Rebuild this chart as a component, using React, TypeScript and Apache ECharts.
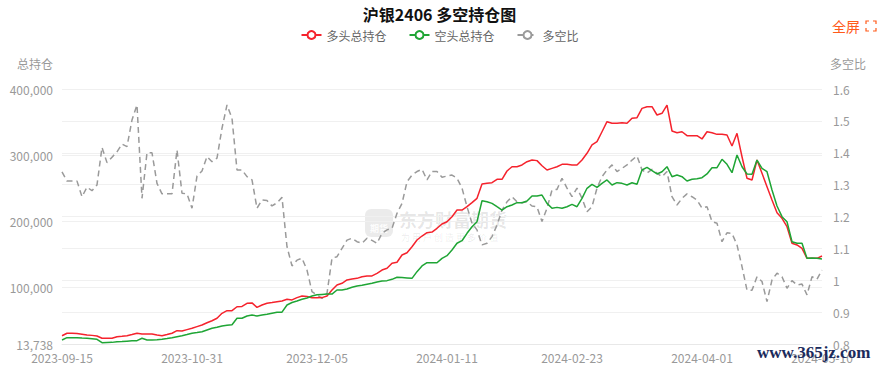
import React, { useEffect, useRef } from 'react';
import * as echarts from 'echarts';

const dates = [
  '2023-09-15','2023-09-18','2023-09-19','2023-09-20','2023-09-21','2023-09-22','2023-09-25','2023-09-26','2023-09-27','2023-09-28',
  '2023-10-09','2023-10-10','2023-10-11','2023-10-12','2023-10-13','2023-10-16','2023-10-17','2023-10-18','2023-10-19','2023-10-20',
  '2023-10-23','2023-10-24','2023-10-25','2023-10-26','2023-10-27','2023-10-30','2023-10-31',
  '2023-11-01','2023-11-02','2023-11-03','2023-11-06','2023-11-07','2023-11-08','2023-11-09','2023-11-10','2023-11-13','2023-11-14',
  '2023-11-15','2023-11-16','2023-11-17','2023-11-20','2023-11-21','2023-11-22','2023-11-23','2023-11-24','2023-11-27','2023-11-28',
  '2023-11-29','2023-11-30',
  '2023-12-01','2023-12-04','2023-12-05','2023-12-06','2023-12-07','2023-12-08','2023-12-11','2023-12-12','2023-12-13','2023-12-14',
  '2023-12-15','2023-12-18','2023-12-19','2023-12-20','2023-12-21','2023-12-22','2023-12-25','2023-12-26','2023-12-27','2023-12-28',
  '2023-12-29',
  '2024-01-02','2024-01-03','2024-01-04','2024-01-05','2024-01-08','2024-01-09','2024-01-10','2024-01-11','2024-01-12','2024-01-15',
  '2024-01-16','2024-01-17','2024-01-18','2024-01-19','2024-01-22','2024-01-23','2024-01-24','2024-01-25','2024-01-26','2024-01-29',
  '2024-01-30','2024-01-31',
  '2024-02-01','2024-02-02','2024-02-05','2024-02-06','2024-02-07','2024-02-08','2024-02-19','2024-02-20','2024-02-21','2024-02-22',
  '2024-02-23','2024-02-26','2024-02-27','2024-02-28','2024-02-29',
  '2024-03-01','2024-03-04','2024-03-05','2024-03-06','2024-03-07','2024-03-08','2024-03-11','2024-03-12','2024-03-13','2024-03-14',
  '2024-03-15','2024-03-18','2024-03-19','2024-03-20','2024-03-21','2024-03-22','2024-03-25','2024-03-26','2024-03-27','2024-03-28',
  '2024-03-29',
  '2024-04-01','2024-04-02','2024-04-03','2024-04-08','2024-04-09','2024-04-10','2024-04-11','2024-04-12','2024-04-15','2024-04-16',
  '2024-04-17','2024-04-18','2024-04-19','2024-04-22','2024-04-23','2024-04-24','2024-04-25','2024-04-26','2024-04-29','2024-04-30',
  '2024-05-06','2024-05-07','2024-05-08','2024-05-09','2024-05-10',
];

const labelDates = ['2023-09-15', '2023-10-31', '2023-12-05', '2024-01-11', '2024-02-23', '2024-04-01', '2024-05-10'];

const longPos = [
  26300, 30000, 30000, 29500, 28500, 27400, 26800, 25900, 22400, 22400,
  22400, 24800, 25500, 26300, 28000, 30000, 29000, 29000, 29000, 27500,
  26300, 28000, 30000, 33900, 33400, 35500, 37500, 40000, 42500, 46000,
  49000, 52700, 60200, 64200, 64200, 70200, 70700, 75400, 76000, 69300,
  72800, 75400, 76500, 77800, 79000, 81400, 80500, 84000, 86400, 85600,
  83900, 83900, 84000, 86400, 95500, 103000, 105700, 110700, 112200, 113200,
  115700, 116800, 116800, 120800, 125800, 128400, 136000, 137600, 148500, 152000,
  161100, 171300, 177300, 182300, 183300, 189000, 195500, 199000, 206600, 216700,
  216700, 221700, 227800, 234400, 256100, 257100, 258100, 263200, 263200, 275800,
  282300, 282300, 284900, 289900, 292400, 291500, 283800, 277300, 279800, 282300,
  285900, 285900, 284900, 284900, 292400, 302600, 315200, 320200, 335300, 350500,
  348000, 348000, 349000, 348000, 355600, 356600, 370700, 373200, 373200, 360600,
  363200, 375700, 336400, 333800, 335300, 329300, 329300, 329300, 324300, 335300,
  333800, 331300, 331300, 330300, 313700, 332900, 297400, 264700, 262100, 292400,
  272300, 252000, 231900, 212600, 204100, 191400, 166300, 163700, 158700, 143500,
  143500, 143500, 147000,
];

const shortPos = [
  19800, 23300, 23300, 23300, 22800, 22400, 21800, 20900, 15700, 16000,
  16200, 17300, 17500, 18000, 18500, 18800, 22400, 19800, 19800, 20300,
  20900, 22000, 23300, 24800, 26300, 28000, 30000, 31000, 32400, 35000,
  37500, 39000, 41000, 42000, 43000, 52700, 52700, 56200, 57500, 56200,
  57500, 58700, 60200, 61700, 62000, 72800, 76600, 78800, 81400, 83500,
  86400, 88400, 88900, 89400, 89400, 95500, 95500, 97000, 99600, 101600,
  102600, 104200, 105700, 107700, 109200, 109700, 111700, 114800, 114300, 113800,
  113200, 123300, 131900, 136900, 136900, 136900, 143500, 147500, 156100, 166300,
  170200, 181400, 191400, 199000, 230800, 229300, 226800, 221700, 216700, 221700,
  224300, 227800, 227800, 230300, 237900, 237900, 239400, 226800, 219300, 220700,
  219300, 221700, 225300, 221700, 234400, 249600, 255600, 251100, 257100, 262200,
  254600, 258100, 257100, 254600, 258000, 255600, 277300, 281300, 276300, 271300,
  274700, 282300, 267200, 269700, 267200, 260600, 263200, 264100, 265700, 271300,
  280800, 280800, 293500, 285900, 273200, 300000, 282300, 271300, 270800, 292400,
  279800, 274700, 247000, 222800, 206600, 199000, 168700, 166300, 166300, 143500,
  144000, 143500, 142500,
];

const ratio = [
  1.340, 1.311, 1.311, 1.311, 1.262, 1.292, 1.281, 1.299, 1.417, 1.369,
  1.386, 1.403, 1.427, 1.419, 1.503, 1.550, 1.257, 1.400, 1.400, 1.304,
  1.271, 1.271, 1.271, 1.409, 1.273, 1.271, 1.226, 1.327, 1.343, 1.388,
  1.372, 1.383, 1.477, 1.550, 1.508, 1.346, 1.346, 1.325, 1.315, 1.226,
  1.252, 1.250, 1.233, 1.243, 1.260, 1.105, 1.045, 1.063, 1.069, 1.032,
  0.964, 0.954, 0.943, 0.959, 1.069, 1.074, 1.100, 1.126, 1.132, 1.121,
  1.116, 1.132, 1.125, 1.116, 1.147, 1.158, 1.163, 1.210, 1.241, 1.309,
  1.330, 1.341, 1.348, 1.315, 1.341, 1.341, 1.323, 1.327, 1.330, 1.320,
  1.289, 1.231, 1.179, 1.158, 1.111, 1.116, 1.137, 1.173, 1.220, 1.246,
  1.262, 1.246, 1.243, 1.246, 1.233, 1.230, 1.184, 1.226, 1.283, 1.285,
  1.320, 1.289, 1.262, 1.289, 1.257, 1.215, 1.231, 1.289, 1.325, 1.346,
  1.362, 1.341, 1.351, 1.362, 1.377, 1.390, 1.346, 1.336, 1.348, 1.336,
  1.325, 1.341, 1.262, 1.236, 1.257, 1.271, 1.262, 1.252, 1.226, 1.231,
  1.184, 1.179, 1.121, 1.149, 1.147, 1.111, 1.043, 0.969, 0.969, 1.011,
  0.996, 0.933, 1.001, 1.022, 1.011, 0.975, 0.999, 0.985, 0.988, 0.954,
  1.011, 1.003, 1.032,
];

const seriesNames = ['多头总持仓', '空头总持仓', '多空比'];
const seriesColors = ['#f5232d', '#1fa535', '#9a9a9a'];

export default function App() {
  const ref = useRef<HTMLDivElement>(null);

  useEffect(() => {
    if (!ref.current) return;
    const chart = echarts.init(ref.current, null, { renderer: 'svg' });
    const font = '"Noto Sans CJK SC", "Noto Sans", sans-serif';
    const orange = '#ff5a1a';
    chart.setOption({
      animation: false,
      textStyle: { fontFamily: font },
      title: {
        text: '沪银2406 多空持仓图',
        left: 'center',
        top: 1,
        textStyle: { fontSize: 16, fontWeight: 'bold', color: '#111', fontFamily: font },
      },
      legend: {
        top: 24,
        left: 'center',
        itemWidth: 20,
        itemHeight: 10,
        itemGap: 22,
        data: seriesNames,
        textStyle: { color: '#666', fontSize: 12, fontFamily: font },
      },
      grid: { left: 62, right: 57, top: 89, bottom: 24 },
      xAxis: {
        type: 'category',
        data: dates,
        boundaryGap: false,
        axisLine: { lineStyle: { color: '#e8e8e8' } },
        axisTick: { show: false },
        axisLabel: {
          color: '#999',
          fontSize: 12,
          margin: 7,
          interval: (_i: number, v: string) => labelDates.includes(v),
        },
        splitLine: { show: false },
      },
      yAxis: [
        {
          type: 'value',
          position: 'left',
          min: 13738,
          max: 400000,
          name: '总持仓',
          nameLocation: 'end',
          nameGap: 20,
          nameTextStyle: { color: '#999', fontSize: 12, align: 'right', padding: [0, 9, 0, 0] },
          axisLine: { show: false },
          axisTick: { show: false },
          axisLabel: {
            color: '#999',
            fontSize: 12,
            margin: 9,
            formatter: (v: number) => Math.round(v).toLocaleString('en-US'),
          },
          splitLine: { lineStyle: { color: '#f0f0f0' } },
        },
        {
          type: 'value',
          position: 'right',
          min: 0.8,
          max: 1.6,
          interval: 0.1,
          name: '多空比',
          nameLocation: 'end',
          nameGap: 20,
          nameTextStyle: { color: '#999', fontSize: 12, align: 'left', padding: [0, 0, 0, 8] },
          axisLine: { show: false },
          axisTick: { show: false },
          axisLabel: {
            color: '#999',
            fontSize: 12,
            margin: 11,
            formatter: (v: number) => String(Math.round(v * 10) / 10),
          },
          splitLine: { lineStyle: { color: '#f0f0f0' } },
        },
      ],
      series: [
        {
          name: seriesNames[0],
          type: 'line',
          data: longPos,
          yAxisIndex: 0,
          showSymbol: false,
          symbol: 'emptyCircle',
          color: seriesColors[0],
          lineStyle: { color: seriesColors[0], width: 1.5 },
          itemStyle: { color: seriesColors[0] },
          z: 3,
        },
        {
          name: seriesNames[1],
          type: 'line',
          data: shortPos,
          yAxisIndex: 0,
          showSymbol: false,
          symbol: 'emptyCircle',
          color: seriesColors[1],
          lineStyle: { color: seriesColors[1], width: 1.5 },
          itemStyle: { color: seriesColors[1] },
          z: 3,
        },
        {
          name: seriesNames[2],
          type: 'line',
          data: ratio,
          yAxisIndex: 1,
          showSymbol: false,
          symbol: 'emptyCircle',
          color: seriesColors[2],
          lineStyle: { color: seriesColors[2], width: 1.5, type: [6, 4] },
          itemStyle: { color: seriesColors[2] },
          z: 2,
        },
      ],
      graphic: [
        {
          type: 'group',
          z: 0,
          silent: true,
          children: [
            {
              type: 'rect',
              shape: { x: 365, y: 209, width: 28, height: 28, r: 6 },
              style: { fill: 'rgba(0,0,0,0.08)' },
            },
            {
              type: 'text',
              style: {
                x: 379, y: 228, text: '期货', fill: 'rgba(255,255,255,0.9)',
                font: 'bold 9px "Noto Sans CJK SC"', textAlign: 'center', textVerticalAlign: 'middle',
              },
            },
            {
              type: 'text',
              style: {
                x: 399, y: 219, text: '东方财富期货', fill: 'rgba(0,0,0,0.1)',
                font: 'bold 18px "Noto Sans CJK SC"', textAlign: 'left', textVerticalAlign: 'middle',
              },
            },
            {
              type: 'text',
              style: {
                x: 401, y: 237, text: '为 用 户 创 造 更 多 价 值', fill: 'rgba(0,0,0,0.09)',
                font: '9px "Noto Sans CJK SC"', textAlign: 'left', textVerticalAlign: 'middle',
              },
            },
          ],
        },
        {
          type: 'text',
          z: 10,
          style: {
            x: 832, y: 26, text: '全屏', fill: orange,
            font: '14px "Noto Sans CJK SC"', textAlign: 'left', textVerticalAlign: 'middle',
          },
        },
        { type: 'polyline', z: 10, shape: { points: [[866, 24], [866, 21], [869, 21]] }, style: { stroke: orange, lineWidth: 1.2, fill: 'none' } },
        { type: 'polyline', z: 10, shape: { points: [[873, 21], [876, 21], [876, 24]] }, style: { stroke: orange, lineWidth: 1.2, fill: 'none' } },
        { type: 'polyline', z: 10, shape: { points: [[866, 28], [866, 31], [869, 31]] }, style: { stroke: orange, lineWidth: 1.2, fill: 'none' } },
        { type: 'polyline', z: 10, shape: { points: [[873, 31], [876, 31], [876, 28]] }, style: { stroke: orange, lineWidth: 1.2, fill: 'none' } },
        {
          type: 'text',
          z: 100,
          style: {
            x: 757, y: 352, text: 'www.365jz.com', fill: '#1b2b5c',
            font: 'bold 17px "Liberation Serif", "DejaVu Serif", serif', textAlign: 'left', textVerticalAlign: 'middle',
          },
        },
      ],
    });
    return () => chart.dispose();
  }, []);

  return (
    <div
      ref={ref}
      style={{ position: 'fixed', left: 0, top: 0, width: 879, height: 368, background: '#fff' }}
    />
  );
}
